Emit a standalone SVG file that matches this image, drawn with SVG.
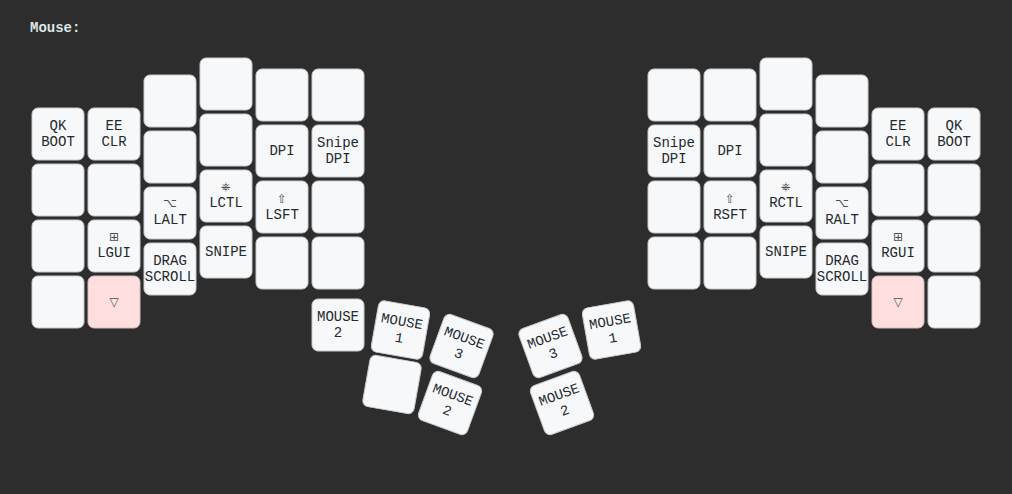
<svg xmlns="http://www.w3.org/2000/svg" width="1012" height="494" viewBox="0 0 1012 494">
<defs>
<style>
.bg{fill:#2d2d2d}
.title{font-family:"Liberation Mono","DejaVu Sans Mono",monospace;font-size:14px;font-weight:bold;fill:#dfe6e6}
.key rect{fill:#f6f8fa;stroke:#c9cccf;stroke-width:1}
.key.held rect{fill:#ffdede;stroke:#d6c0c0}
text.k{font-family:"Liberation Mono","DejaVu Sans Mono",monospace;font-size:14px;fill:#24292e;text-anchor:middle;dominant-baseline:central}
tspan.s{font-size:12px;fill:#4a4f54;font-family:"DejaVu Sans","Noto Sans",sans-serif}
</style>
</defs>
<rect class="bg" x="0" y="0" width="1012" height="494"/>
<text class="title" x="30" y="32">Mouse:</text>
<g id="connectors"/>
<g id="left">
<g id="L00" class="key" transform="translate(58,134)"><rect x="-26" y="-26" width="52" height="52" rx="6"/><text class="k"><tspan x="0" dy="-0.6em">QK</tspan><tspan x="0" dy="1.2em">BOOT</tspan></text></g>
<g id="L01" class="key" transform="translate(58,190)"><rect x="-26" y="-26" width="52" height="52" rx="6"/></g>
<g id="L02" class="key" transform="translate(58,246)"><rect x="-26" y="-26" width="52" height="52" rx="6"/></g>
<g id="L03" class="key" transform="translate(58,302)"><rect x="-26" y="-26" width="52" height="52" rx="6"/></g>
<g id="L10" class="key" transform="translate(114,134)"><rect x="-26" y="-26" width="52" height="52" rx="6"/><text class="k"><tspan x="0" dy="-0.6em">EE</tspan><tspan x="0" dy="1.2em">CLR</tspan></text></g>
<g id="L11" class="key" transform="translate(114,190)"><rect x="-26" y="-26" width="52" height="52" rx="6"/></g>
<g id="L12" class="key" transform="translate(114,246)"><rect x="-26" y="-26" width="52" height="52" rx="6"/><text class="k"><tspan class="s" x="0" y="-9">⊞</tspan><tspan x="0" y="7">LGUI</tspan></text></g>
<g id="L13" class="key held" transform="translate(114,302)"><rect x="-26" y="-26" width="52" height="52" rx="6"/><text class="k"><tspan class="s" x="0" y="0">▽</tspan></text></g>
<g id="L20" class="key" transform="translate(170,101)"><rect x="-26" y="-26" width="52" height="52" rx="6"/></g>
<g id="L21" class="key" transform="translate(170,157)"><rect x="-26" y="-26" width="52" height="52" rx="6"/></g>
<g id="L22" class="key" transform="translate(170,213)"><rect x="-26" y="-26" width="52" height="52" rx="6"/><text class="k"><tspan class="s" x="0" y="-10">⌥</tspan><tspan x="0" y="7">LALT</tspan></text></g>
<g id="L23" class="key" transform="translate(170,269)"><rect x="-26" y="-26" width="52" height="52" rx="6"/><text class="k"><tspan x="0" dy="-0.6em">DRAG</tspan><tspan x="0" dy="1.2em">SCROLL</tspan></text></g>
<g id="L30" class="key" transform="translate(226,84)"><rect x="-26" y="-26" width="52" height="52" rx="6"/></g>
<g id="L31" class="key" transform="translate(226,140)"><rect x="-26" y="-26" width="52" height="52" rx="6"/></g>
<g id="L32" class="key" transform="translate(226,196)"><rect x="-26" y="-26" width="52" height="52" rx="6"/><text class="k"><tspan class="s" x="0" y="-9">⎈</tspan><tspan x="0" y="7">LCTL</tspan></text></g>
<g id="L33" class="key" transform="translate(226,252)"><rect x="-26" y="-26" width="52" height="52" rx="6"/><text class="k">SNIPE</text></g>
<g id="L40" class="key" transform="translate(282,95)"><rect x="-26" y="-26" width="52" height="52" rx="6"/></g>
<g id="L41" class="key" transform="translate(282,151)"><rect x="-26" y="-26" width="52" height="52" rx="6"/><text class="k">DPI</text></g>
<g id="L42" class="key" transform="translate(282,207)"><rect x="-26" y="-26" width="52" height="52" rx="6"/><text class="k"><tspan class="s" x="0" y="-8">⇧</tspan><tspan x="0" y="8">LSFT</tspan></text></g>
<g id="L43" class="key" transform="translate(282,263)"><rect x="-26" y="-26" width="52" height="52" rx="6"/></g>
<g id="L50" class="key" transform="translate(338,95)"><rect x="-26" y="-26" width="52" height="52" rx="6"/></g>
<g id="L51" class="key" transform="translate(338,151)"><rect x="-26" y="-26" width="52" height="52" rx="6"/><text class="k"><tspan x="0" dy="-0.6em">Snipe</tspan><tspan x="0" dy="1.2em">DPI</tspan></text></g>
<g id="L52" class="key" transform="translate(338,207)"><rect x="-26" y="-26" width="52" height="52" rx="6"/></g>
<g id="L53" class="key" transform="translate(338,263)"><rect x="-26" y="-26" width="52" height="52" rx="6"/></g>
<g id="LT0" class="key" transform="translate(338,325)"><rect x="-26" y="-26" width="52" height="52" rx="6"/><text class="k"><tspan x="0" dy="-0.6em">MOUSE</tspan><tspan x="0" dy="1.2em">2</tspan></text></g>
<g id="LT1" class="key" transform="translate(400.5,330) rotate(10)"><rect x="-26" y="-26" width="52" height="52" rx="6"/><text class="k"><tspan x="0" dy="-0.6em">MOUSE</tspan><tspan x="0" dy="1.2em">1</tspan></text></g>
<g id="LT2" class="key" transform="translate(461.5,346) rotate(20)"><rect x="-26" y="-26" width="52" height="52" rx="6"/><text class="k"><tspan x="0" dy="-0.6em">MOUSE</tspan><tspan x="0" dy="1.2em">3</tspan></text></g>
<g id="LT3" class="key" transform="translate(392,384.5) rotate(10)"><rect x="-26" y="-26" width="52" height="52" rx="6"/></g>
<g id="LT4" class="key" transform="translate(450,403) rotate(20)"><rect x="-26" y="-26" width="52" height="52" rx="6"/><text class="k"><tspan x="0" dy="-0.6em">MOUSE</tspan><tspan x="0" dy="1.2em">2</tspan></text></g>
</g>
<g id="right">
<g id="R00" class="key" transform="translate(954,134)"><rect x="-26" y="-26" width="52" height="52" rx="6"/><text class="k"><tspan x="0" dy="-0.6em">QK</tspan><tspan x="0" dy="1.2em">BOOT</tspan></text></g>
<g id="R01" class="key" transform="translate(954,190)"><rect x="-26" y="-26" width="52" height="52" rx="6"/></g>
<g id="R02" class="key" transform="translate(954,246)"><rect x="-26" y="-26" width="52" height="52" rx="6"/></g>
<g id="R03" class="key" transform="translate(954,302)"><rect x="-26" y="-26" width="52" height="52" rx="6"/></g>
<g id="R10" class="key" transform="translate(898,134)"><rect x="-26" y="-26" width="52" height="52" rx="6"/><text class="k"><tspan x="0" dy="-0.6em">EE</tspan><tspan x="0" dy="1.2em">CLR</tspan></text></g>
<g id="R11" class="key" transform="translate(898,190)"><rect x="-26" y="-26" width="52" height="52" rx="6"/></g>
<g id="R12" class="key" transform="translate(898,246)"><rect x="-26" y="-26" width="52" height="52" rx="6"/><text class="k"><tspan class="s" x="0" y="-9">⊞</tspan><tspan x="0" y="7">RGUI</tspan></text></g>
<g id="R13" class="key held" transform="translate(898,302)"><rect x="-26" y="-26" width="52" height="52" rx="6"/><text class="k"><tspan class="s" x="0" y="0">▽</tspan></text></g>
<g id="R20" class="key" transform="translate(842,101)"><rect x="-26" y="-26" width="52" height="52" rx="6"/></g>
<g id="R21" class="key" transform="translate(842,157)"><rect x="-26" y="-26" width="52" height="52" rx="6"/></g>
<g id="R22" class="key" transform="translate(842,213)"><rect x="-26" y="-26" width="52" height="52" rx="6"/><text class="k"><tspan class="s" x="0" y="-10">⌥</tspan><tspan x="0" y="7">RALT</tspan></text></g>
<g id="R23" class="key" transform="translate(842,269)"><rect x="-26" y="-26" width="52" height="52" rx="6"/><text class="k"><tspan x="0" dy="-0.6em">DRAG</tspan><tspan x="0" dy="1.2em">SCROLL</tspan></text></g>
<g id="R30" class="key" transform="translate(786,84)"><rect x="-26" y="-26" width="52" height="52" rx="6"/></g>
<g id="R31" class="key" transform="translate(786,140)"><rect x="-26" y="-26" width="52" height="52" rx="6"/></g>
<g id="R32" class="key" transform="translate(786,196)"><rect x="-26" y="-26" width="52" height="52" rx="6"/><text class="k"><tspan class="s" x="0" y="-9">⎈</tspan><tspan x="0" y="7">RCTL</tspan></text></g>
<g id="R33" class="key" transform="translate(786,252)"><rect x="-26" y="-26" width="52" height="52" rx="6"/><text class="k">SNIPE</text></g>
<g id="R40" class="key" transform="translate(730,95)"><rect x="-26" y="-26" width="52" height="52" rx="6"/></g>
<g id="R41" class="key" transform="translate(730,151)"><rect x="-26" y="-26" width="52" height="52" rx="6"/><text class="k">DPI</text></g>
<g id="R42" class="key" transform="translate(730,207)"><rect x="-26" y="-26" width="52" height="52" rx="6"/><text class="k"><tspan class="s" x="0" y="-8">⇧</tspan><tspan x="0" y="8">RSFT</tspan></text></g>
<g id="R43" class="key" transform="translate(730,263)"><rect x="-26" y="-26" width="52" height="52" rx="6"/></g>
<g id="R50" class="key" transform="translate(674,95)"><rect x="-26" y="-26" width="52" height="52" rx="6"/></g>
<g id="R51" class="key" transform="translate(674,151)"><rect x="-26" y="-26" width="52" height="52" rx="6"/><text class="k"><tspan x="0" dy="-0.6em">Snipe</tspan><tspan x="0" dy="1.2em">DPI</tspan></text></g>
<g id="R52" class="key" transform="translate(674,207)"><rect x="-26" y="-26" width="52" height="52" rx="6"/></g>
<g id="R53" class="key" transform="translate(674,263)"><rect x="-26" y="-26" width="52" height="52" rx="6"/></g>
<g id="RT0" class="key" transform="translate(550.5,346) rotate(-20)"><rect x="-26" y="-26" width="52" height="52" rx="6"/><text class="k"><tspan x="0" dy="-0.6em">MOUSE</tspan><tspan x="0" dy="1.2em">3</tspan></text></g>
<g id="RT1" class="key" transform="translate(611.5,330) rotate(-10)"><rect x="-26" y="-26" width="52" height="52" rx="6"/><text class="k"><tspan x="0" dy="-0.6em">MOUSE</tspan><tspan x="0" dy="1.2em">1</tspan></text></g>
<g id="RT2" class="key" transform="translate(562,403) rotate(-20)"><rect x="-26" y="-26" width="52" height="52" rx="6"/><text class="k"><tspan x="0" dy="-0.6em">MOUSE</tspan><tspan x="0" dy="1.2em">2</tspan></text></g>
</g>
</svg>
